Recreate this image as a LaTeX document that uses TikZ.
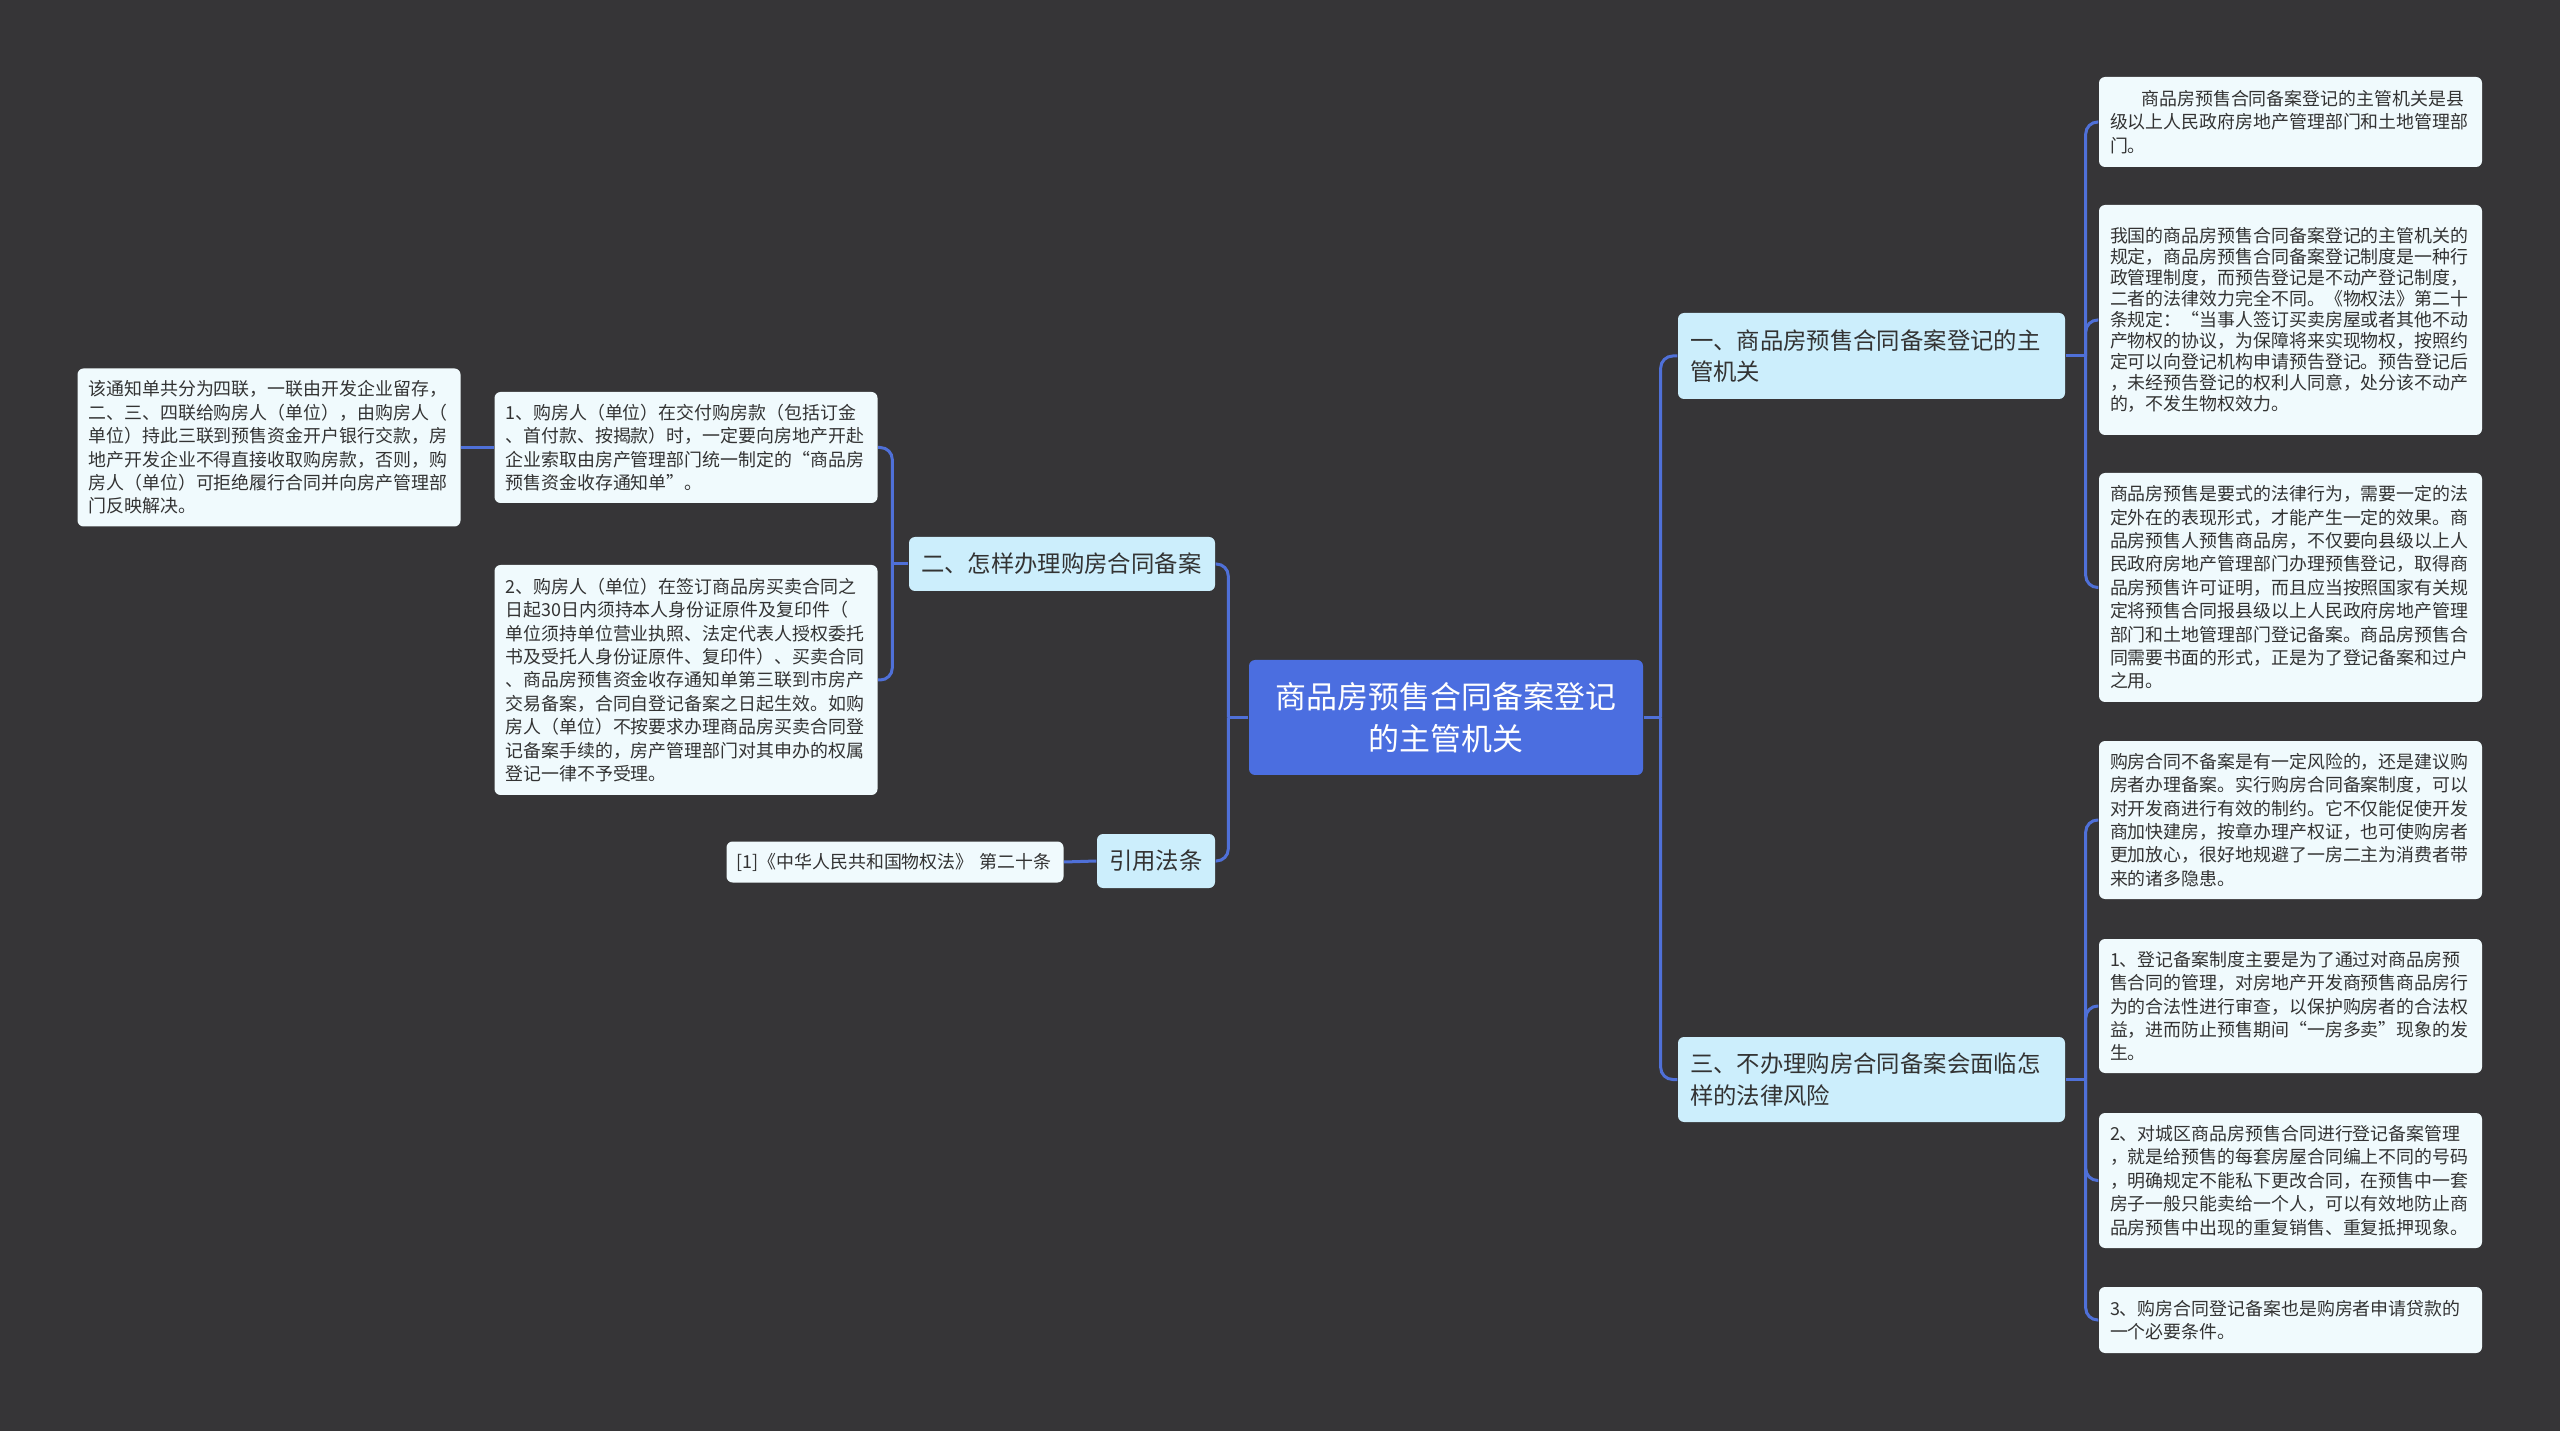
\documentclass[tikz,border=0pt]{standalone}
\usepackage{fontspec}
\newfontfamily\cjk{Noto Sans CJK SC}
\usetikzlibrary{positioning}

\definecolor{bgdark}{HTML}{363537}
\definecolor{rootblue}{HTML}{4B6EE0}
\definecolor{linkblue}{HTML}{4F70D8}
\definecolor{topicfill}{HTML}{CCEEFC}
\definecolor{leaffill}{HTML}{F0FAFD}
\definecolor{inkgray}{HTML}{333333}

\begin{document}
\begin{tikzpicture}[
  x=0.1mm, y=-0.1mm,
  box/.style={
    rounded corners=0.6mm, align=left, inner ysep=0pt,
    text=inkgray, font=\cjk,
  },
  root/.style={box, fill=rootblue, text=white, align=center,
    font=\cjk\fontsize{8.8pt}{11.9pt}\selectfont,
    text width=37mm, minimum width=39.4mm, minimum height=11.5mm},
  topic/.style={box, fill=topicfill, inner xsep=1.2mm,
    font=\cjk\fontsize{6.65pt}{9pt}\selectfont},
  leaf/.style={box, fill=leaffill, inner xsep=1.1mm, text width=36.1mm,
    font=\cjk\fontsize{5.1pt}{6.66pt}\selectfont},
  link/.style={draw=linkblue, line width=0.3mm, rounded corners=1.2mm},
]

% ---- Canvas -----------------------------------------------------------------
\fill[bgdark] (0,0) rectangle (2560,1431);

% ---- Central topic ----------------------------------------------------------
\node[root] (root) at (1446, 717.5)
  {商品房预售合同备案登记\\的主管机关};

% ---- Main branches ----------------------------------------------------------
\node[topic, text width=36.3mm, minimum height=8.6mm] (n1) at (1871.5, 356)
  {一、商品房预售合同备案登记的主\\管机关};
\node[topic, text width=36.3mm, minimum height=8.5mm] (n3) at (1871.5, 1079.5)
  {三、不办理购房合同备案会面临怎\\样的法律风险};
\node[topic, text width=28.2mm, minimum height=5.4mm] (n2) at (1062, 564)
  {二、怎样办理购房合同备案};
\node[topic, text width=9.4mm, minimum height=5.4mm] (n4) at (1156, 861)
  {引用法条};

% ---- Leaves of branch one ---------------------------------------------------
\node[leaf, minimum height=9mm] (r1) at (2290.5, 122)
  {\hspace*{1.75em}商品房预售合同备案登记的主管机关是县\\级以上人民政府房地产管理部门和土地管理部\\门。};
\node[leaf, minimum height=23mm, font=\cjk\fontsize{5.1pt}{6.0pt}\selectfont] (r2) at (2290.5, 320)
  {我国的商品房预售合同备案登记的主管机关的\\规定，商品房预售合同备案登记制度是一种行\\政管理制度，而预告登记是不动产登记制度，\\二者的法律效力完全不同。《物权法》第二十\\条规定：“当事人签订买卖房屋或者其他不动\\产物权的协议，为保障将来实现物权，按照约\\定可以向登记机构申请预告登记。预告登记后\\，未经预告登记的权利人同意，处分该不动产\\的，不发生物权效力。};
\node[leaf, minimum height=22.9mm] (r3) at (2290.5, 587.5)
  {商品房预售是要式的法律行为，需要一定的法\\定外在的表现形式，才能产生一定的效果。商\\品房预售人预售商品房，不仅要向县级以上人\\民政府房地产管理部门办理预售登记，取得商\\品房预售许可证明，而且应当按照国家有关规\\定将预售合同报县级以上人民政府房地产管理\\部门和土地管理部门登记备案。商品房预售合\\同需要书面的形式，正是为了登记备案和过户\\之用。};

% ---- Leaves of branch three -------------------------------------------------
\node[leaf, minimum height=15.8mm] (r4) at (2290.5, 820)
  {购房合同不备案是有一定风险的，还是建议购\\房者办理备案。实行购房合同备案制度，可以\\对开发商进行有效的制约。它不仅能促使开发\\商加快建房，按章办理产权证，也可使购房者\\更加放心，很好地规避了一房二主为消费者带\\来的诸多隐患。};
\node[leaf, minimum height=13.4mm] (r5) at (2290.5, 1006)
  {1、登记备案制度主要是为了通过对商品房预\\售合同的管理，对房地产开发商预售商品房行\\为的合法性进行审查，以保护购房者的合法权\\益，进而防止预售期间“一房多卖”现象的发\\生。};
\node[leaf, minimum height=13.5mm] (r6) at (2290.5, 1180.5)
  {2、对城区商品房预售合同进行登记备案管理\\，就是给预售的每套房屋合同编上不同的号码\\，明确规定不能私下更改合同，在预售中一套\\房子一般只能卖给一个人，可以有效地防止商\\品房预售中出现的重复销售、重复抵押现象。};
\node[leaf, minimum height=6.6mm] (r7) at (2290.5, 1320)
  {3、购房合同登记备案也是购房者申请贷款的\\一个必要条件。};

% ---- Leaves of branch two ---------------------------------------------------
\node[leaf, minimum height=11.1mm] (a1) at (686, 447.5)
  {1、购房人（单位）在交付购房款（包括订金\\、首付款、按揭款）时，一定要向房地产开赴\\企业索取由房产管理部门统一制定的“商品房\\预售资金收存通知单”。};
\node[leaf, minimum height=23mm] (a2) at (686, 680)
  {2、购房人（单位）在签订商品房买卖合同之\\日起30日内须持本人身份证原件及复印件（\\单位须持单位营业执照、法定代表人授权委托\\书及受托人身份证原件、复印件）、买卖合同\\、商品房预售资金收存通知单第三联到市房产\\交易备案，合同自登记备案之日起生效。如购\\房人（单位）不按要求办理商品房买卖合同登\\记备案手续的，房产管理部门对其申办的权属\\登记一律不予受理。};
\node[leaf, minimum height=15.8mm] (b1) at (269, 447.5)
  {该通知单共分为四联，一联由开发企业留存，\\二、三、四联给购房人（单位），由购房人（\\单位）持此三联到预售资金开户银行交款，房\\地产开发企业不得直接收取购房款，否则，购\\房人（单位）可拒绝履行合同并向房产管理部\\门反映解决。};

% ---- Leaf of the citation branch --------------------------------------------
\node[leaf, text width=31.7mm, inner xsep=1mm, minimum height=4.1mm] (c1) at (895, 862)
  {[1]《中华人民共和国物权法》 第二十条};

% ---- Junctions --------------------------------------------------------------
\coordinate (jr) at ([xshift=1.7mm]root.east);
\coordinate (jl) at ([xshift=-2mm]root.west);
\coordinate (j1) at ([xshift=2mm]n1.east);
\coordinate (j3) at ([xshift=2mm]n3.east);
\coordinate (j2) at ([xshift=-1.6mm]n2.west);

% ---- Connectors -------------------------------------------------------------
\draw[link] (root.east) -- (jr);
\draw[link] (jr) |- (n1.west);
\draw[link] (jr) |- (n3.west);
\draw[link] (root.west) -- (jl);
\draw[link] (jl) |- (n2.east);
\draw[link] (jl) |- (n4.east);

\draw[link] (n1.east) -- (j1);
\foreach \leaf in {r1,r2,r3}
  \draw[link] (j1) |- (\leaf.west);
\draw[link] (n3.east) -- (j3);
\foreach \leaf in {r4,r5,r6,r7}
  \draw[link] (j3) |- (\leaf.west);

\draw[link] (n2.west) -- (j2);
\foreach \leaf in {a1,a2}
  \draw[link] (j2) |- (\leaf.east);
\draw[link] (a1.west) -- (b1.east);
\draw[link] (n4.west) -- (c1.east);

\end{tikzpicture}
\end{document}
